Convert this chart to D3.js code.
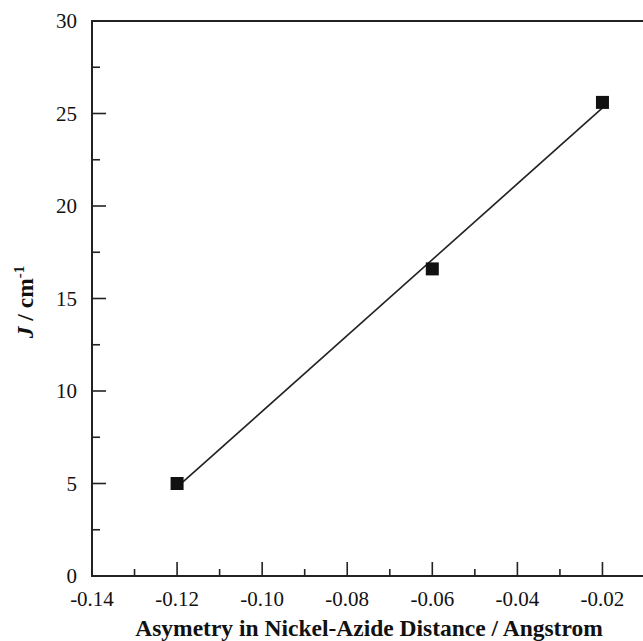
<!DOCTYPE html>
<html>
<head>
<meta charset="utf-8">
<script src="https://cdn.jsdelivr.net/npm/d3@7"></script>
<style>
  html, body { margin: 0; padding: 0; background: #fff; }
  svg { display: block; }
  text { font-family: "Liberation Serif", "Times New Roman", serif; fill: #111; }
</style>
</head>
<body>
<svg id="chart" width="643" height="641"></svg>
<script>
// Data
const asymmetry = [-0.12, -0.06, -0.02];
const jValues = [5.0, 16.6, 25.6];
const xMajorTicks = [-0.14, -0.12, -0.10, -0.08, -0.06, -0.04, -0.02];
const xTickLabels = ["-0.14", "-0.12", "-0.10", "-0.08", "-0.06", "-0.04", "-0.02"];
const xMinorTicks = [-0.13, -0.11, -0.09, -0.07, -0.05, -0.03, -0.01];
const yMajorTicks = [0, 5, 10, 15, 20, 25, 30];
const yMinorTicks = [2.5, 7.5, 12.5, 17.5, 22.5, 27.5];

const svg = d3.select("#chart");
const margin = { left: 92, top: 21, right: 645, bottom: 576 };

const x = d3.scaleLinear().domain([-0.14, -0.01]).range([margin.left, margin.right]);
const y = d3.scaleLinear().domain([0, 30]).range([margin.bottom, margin.top]);

const ink = "#222";

// Linear regression line through data
const n = asymmetry.length;
const mx = d3.mean(asymmetry), my = d3.mean(jValues);
let sxy = 0, sxx = 0;
for (let i = 0; i < n; i++) {
  sxy += (asymmetry[i] - mx) * (jValues[i] - my);
  sxx += (asymmetry[i] - mx) ** 2;
}
const slope = sxy / sxx, intercept = my - slope * mx;
const xMin = d3.min(asymmetry), xMax = d3.max(asymmetry);
const fit = [[xMin, intercept + slope * xMin], [xMax, intercept + slope * xMax]];

// Frame
svg.append("rect")
  .attr("x", margin.left).attr("y", margin.top)
  .attr("width", margin.right - margin.left)
  .attr("height", margin.bottom - margin.top)
  .attr("fill", "none").attr("stroke", ink).attr("stroke-width", 2);

// Y ticks (inward)
const gy = svg.append("g");
gy.selectAll(".ymaj").data(yMajorTicks).enter().append("line")
  .attr("x1", margin.left).attr("x2", margin.left + 14)
  .attr("y1", d => y(d)).attr("y2", d => y(d))
  .attr("stroke", ink).attr("stroke-width", 1.6);
gy.selectAll(".ymin").data(yMinorTicks).enter().append("line")
  .attr("x1", margin.left).attr("x2", margin.left + 8)
  .attr("y1", d => y(d)).attr("y2", d => y(d))
  .attr("stroke", ink).attr("stroke-width", 1.6);
gy.selectAll("text").data(yMajorTicks).enter().append("text")
  .attr("x", 77).attr("y", d => y(d))
  .attr("dy", "0.35em")
  .attr("text-anchor", "end")
  .attr("font-size", 21)
  .text(d => d);

// X ticks (inward)
const gx = svg.append("g");
gx.selectAll(".xmaj").data(xMajorTicks).enter().append("line")
  .attr("x1", d => x(d)).attr("x2", d => x(d))
  .attr("y1", margin.bottom).attr("y2", margin.bottom - 14)
  .attr("stroke", ink).attr("stroke-width", 1.6);
gx.selectAll(".xmin").data(xMinorTicks).enter().append("line")
  .attr("x1", d => x(d)).attr("x2", d => x(d))
  .attr("y1", margin.bottom).attr("y2", margin.bottom - 7)
  .attr("stroke", ink).attr("stroke-width", 1.6);
gx.selectAll("text").data(xMajorTicks).enter().append("text")
  .attr("x", d => x(d)).attr("y", 606)
  .attr("text-anchor", "middle")
  .attr("font-size", 21)
  .text((d, i) => xTickLabels[i]);

// Fit line
svg.append("path")
  .attr("d", d3.line().x(d => x(d[0])).y(d => y(d[1]))(fit))
  .attr("fill", "none").attr("stroke", ink).attr("stroke-width", 1.6);

// Points
const s = 13;
svg.selectAll(".pt").data(asymmetry).enter().append("rect")
  .attr("x", (d) => x(d) - s / 2)
  .attr("y", (d, i) => y(jValues[i]) - s / 2)
  .attr("width", s).attr("height", s)
  .attr("fill", "#111");

// Axis titles
svg.append("text")
  .attr("x", 369).attr("y", 636)
  .attr("text-anchor", "middle")
  .attr("font-size", 23.5).attr("font-weight", "bold")
  .text("Asymetry in Nickel-Azide Distance / Angstrom");

const yt = svg.append("text")
  .attr("transform", "translate(33,302) rotate(-90)")
  .attr("text-anchor", "middle")
  .attr("font-size", 23.5).attr("font-weight", "bold");
yt.append("tspan").attr("font-style", "italic").text("J");
yt.append("tspan").text(" / cm");
yt.append("tspan").attr("font-size", 15).attr("dy", -9).text("-1");
</script>
</body>
</html>
